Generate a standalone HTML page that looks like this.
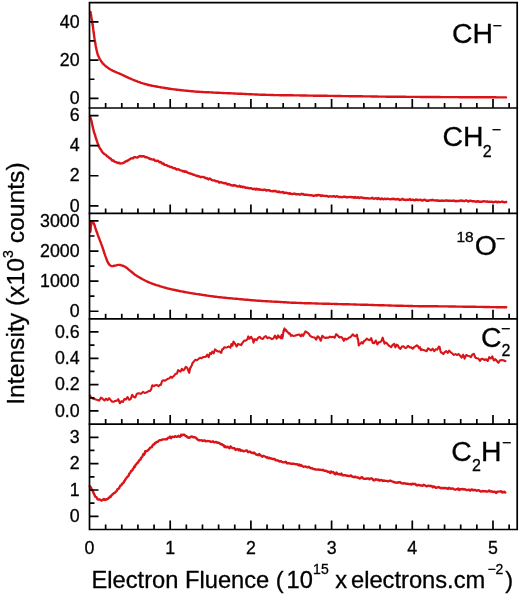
<!DOCTYPE html><html><head><meta charset="utf-8"><style>html,body{margin:0;padding:0;background:#fff;}svg{display:block;will-change:transform;}text{font-family:"Liberation Sans",sans-serif;fill:#000;stroke:#000;stroke-width:0.3px;}</style></head><body>
<svg width="520" height="596" viewBox="0 0 520 596">
<rect width="520" height="596" fill="#fff"/>
<path d="M90.5,12.0 L90.6,12.8 L90.8,13.9 L91.1,15.2 L91.3,16.7 L91.5,17.6 L91.6,18.5 L91.8,19.5 L92.0,20.6 L92.2,21.6 L92.3,22.7 L92.5,23.8 L92.6,24.8 L92.8,25.8 L92.9,26.8 L93.1,27.8 L93.2,28.9 L93.3,29.9 L93.5,31.0 L93.6,32.0 L93.7,33.0 L93.9,34.1 L94.0,35.1 L94.2,36.2 L94.3,37.2 L94.5,38.2 L94.6,39.2 L94.8,40.2 L95.0,41.3 L95.1,42.3 L95.3,43.3 L95.5,44.3 L95.6,45.2 L95.8,46.2 L96.0,47.2 L96.2,48.2 L96.4,49.3 L96.7,50.3 L96.9,51.4 L97.1,52.4 L97.4,53.4 L97.7,54.3 L98.1,55.5 L98.6,56.5 L99.0,57.5 L99.5,58.5 L100.1,59.5 L100.7,60.5 L101.3,61.4 L102.0,62.3 L102.7,63.3 L103.6,64.2 L104.3,64.9 L105.1,65.6 L105.9,66.3 L106.8,67.0 L107.7,67.6 L108.6,68.3 L109.5,68.9 L110.5,69.5 L111.5,70.0 L112.6,70.6 L113.7,71.1 L114.7,71.6 L115.7,72.0 L116.5,72.4 L117.7,72.9 L118.5,73.2 L120.0,73.8 L120.7,74.1 L121.5,74.5 L122.4,74.9 L123.4,75.4 L124.4,75.9 L125.5,76.4 L126.5,76.9 L127.6,77.4 L128.6,77.9 L129.6,78.3 L130.6,78.7 L131.5,79.1 L132.5,79.5 L133.4,79.9 L134.4,80.3 L135.4,80.7 L136.3,81.0 L137.3,81.4 L138.2,81.8 L139.2,82.1 L140.2,82.4 L141.1,82.8 L142.1,83.1 L143.0,83.4 L144.0,83.7 L145.0,84.0 L145.9,84.2 L146.9,84.5 L147.8,84.8 L148.8,85.0 L149.9,85.3 L151.0,85.5 L152.0,85.7 L153.1,85.9 L154.2,86.1 L155.3,86.3 L156.3,86.5 L157.4,86.7 L158.5,86.9 L159.6,87.1 L160.6,87.3 L161.7,87.5 L162.8,87.6 L163.8,87.8 L164.9,88.0 L166.0,88.2 L167.0,88.3 L168.1,88.5 L169.2,88.7 L170.2,88.8 L171.3,89.0 L172.4,89.1 L173.4,89.3 L174.5,89.4 L175.6,89.5 L176.6,89.7 L177.7,89.8 L178.8,89.9 L179.8,90.0 L180.9,90.2 L182.0,90.3 L183.0,90.4 L184.1,90.5 L185.2,90.6 L186.2,90.7 L187.3,90.8 L188.3,90.9 L189.4,91.0 L190.4,91.1 L191.4,91.2 L192.4,91.3 L193.4,91.4 L194.5,91.5 L195.7,91.6 L196.9,91.7 L197.8,91.8 L198.7,91.8 L199.6,91.9 L200.6,91.9 L201.6,92.0 L202.6,92.0 L203.6,92.1 L204.6,92.1 L205.7,92.2 L206.7,92.2 L207.8,92.3 L208.9,92.3 L210.0,92.4 L211.0,92.4 L211.9,92.5 L212.9,92.5 L213.9,92.6 L215.0,92.6 L216.0,92.7 L217.0,92.7 L218.1,92.8 L219.1,92.8 L220.2,92.9 L221.2,92.9 L222.3,93.0 L223.3,93.0 L224.4,93.1 L225.4,93.1 L226.4,93.1 L227.5,93.2 L228.5,93.2 L229.5,93.3 L230.5,93.3 L231.6,93.4 L232.6,93.4 L233.6,93.5 L234.6,93.5 L235.7,93.6 L236.7,93.6 L237.7,93.7 L238.7,93.7 L239.8,93.8 L240.8,93.8 L241.8,93.8 L242.9,93.9 L243.9,93.9 L244.9,94.0 L245.9,94.0 L247.0,94.1 L248.0,94.1 L249.0,94.2 L250.0,94.2 L251.1,94.3 L252.1,94.3 L253.1,94.4 L254.2,94.4 L255.2,94.5 L256.2,94.5 L257.2,94.5 L258.2,94.6 L259.2,94.6 L260.2,94.7 L261.2,94.7 L262.2,94.7 L263.2,94.8 L264.2,94.8 L265.2,94.8 L266.2,94.9 L267.2,94.9 L268.2,94.9 L269.3,94.9 L270.4,95.0 L271.5,95.0 L272.4,95.0 L273.2,95.0 L274.0,95.1 L274.7,95.1 L275.4,95.1 L276.1,95.1 L276.8,95.1 L277.5,95.1 L278.3,95.1 L279.1,95.1 L280.0,95.2 L281.0,95.2 L282.1,95.2 L283.4,95.2 L284.8,95.2 L286.3,95.2 L288.1,95.3 L290.0,95.3 L290.7,95.3 L291.4,95.3 L292.1,95.3 L292.9,95.3 L293.6,95.4 L294.4,95.4 L295.2,95.4 L296.1,95.4 L296.9,95.4 L297.8,95.4 L298.7,95.4 L299.6,95.4 L300.5,95.5 L301.4,95.5 L302.4,95.5 L303.3,95.5 L304.3,95.5 L305.3,95.5 L306.3,95.5 L307.3,95.6 L308.3,95.6 L309.4,95.6 L310.4,95.6 L311.5,95.6 L312.5,95.6 L313.6,95.7 L314.7,95.7 L315.8,95.7 L316.8,95.7 L317.9,95.7 L319.0,95.7 L320.1,95.7 L321.2,95.8 L322.4,95.8 L323.5,95.8 L324.6,95.8 L325.7,95.8 L326.8,95.8 L327.9,95.9 L329.0,95.9 L330.1,95.9 L331.2,95.9 L332.3,95.9 L333.4,95.9 L334.5,96.0 L335.6,96.0 L336.7,96.0 L337.7,96.0 L338.8,96.0 L339.9,96.0 L340.9,96.0 L341.9,96.1 L343.0,96.1 L344.0,96.1 L345.0,96.1 L346.0,96.1 L347.0,96.1 L348.0,96.1 L349.0,96.2 L350.0,96.2 L351.0,96.2 L352.0,96.2 L353.0,96.2 L354.1,96.2 L355.1,96.2 L356.1,96.3 L357.1,96.3 L358.1,96.3 L359.1,96.3 L360.1,96.3 L361.2,96.3 L362.2,96.3 L363.2,96.4 L364.2,96.4 L365.2,96.4 L366.2,96.4 L367.2,96.4 L368.3,96.4 L369.3,96.4 L370.3,96.4 L371.3,96.5 L372.3,96.5 L373.3,96.5 L374.3,96.5 L375.3,96.5 L376.3,96.5 L377.4,96.5 L378.4,96.6 L379.4,96.6 L380.4,96.6 L381.4,96.6 L382.4,96.6 L383.4,96.6 L384.4,96.6 L385.4,96.6 L386.4,96.7 L387.3,96.7 L388.3,96.7 L389.3,96.7 L390.3,96.7 L391.3,96.7 L392.3,96.7 L393.2,96.7 L394.2,96.7 L395.2,96.8 L396.2,96.8 L397.1,96.8 L398.1,96.8 L399.0,96.8 L400.0,96.8 L401.0,96.8 L402.1,96.8 L403.1,96.8 L404.2,96.8 L405.2,96.8 L406.2,96.9 L407.2,96.9 L408.2,96.9 L409.2,96.9 L410.2,96.9 L411.2,96.9 L412.2,96.9 L413.2,96.9 L414.2,96.9 L415.2,96.9 L416.2,96.9 L417.1,96.9 L418.1,96.9 L419.1,96.9 L420.1,96.9 L421.0,97.0 L422.0,97.0 L423.0,97.0 L424.0,97.0 L424.9,97.0 L425.9,97.0 L426.9,97.0 L427.9,97.0 L428.8,97.0 L429.8,97.0 L430.8,97.0 L431.8,97.0 L432.7,97.0 L433.7,97.0 L434.7,97.0 L435.7,97.0 L436.7,97.0 L437.7,97.0 L438.7,97.0 L439.7,97.0 L440.7,97.1 L441.7,97.1 L442.7,97.1 L443.8,97.1 L444.8,97.1 L445.8,97.1 L446.8,97.1 L447.9,97.1 L448.9,97.1 L450.0,97.1 L451.0,97.1 L451.9,97.1 L452.9,97.1 L453.9,97.1 L455.0,97.1 L456.0,97.1 L457.1,97.1 L458.2,97.1 L459.3,97.2 L460.4,97.2 L461.5,97.2 L462.6,97.2 L463.7,97.2 L464.9,97.2 L466.0,97.2 L467.2,97.2 L468.4,97.2 L469.5,97.2 L470.7,97.2 L471.9,97.2 L473.0,97.2 L474.2,97.2 L475.4,97.2 L476.5,97.2 L477.7,97.3 L478.8,97.3 L480.0,97.3 L481.1,97.3 L482.3,97.3 L483.4,97.3 L484.5,97.3 L485.6,97.3 L486.7,97.3 L487.8,97.3 L488.8,97.3 L489.9,97.3 L490.9,97.3 L491.9,97.3 L492.9,97.3 L493.9,97.3 L494.9,97.3 L495.8,97.3 L496.7,97.4 L497.6,97.4 L498.5,97.4 L499.3,97.4 L500.1,97.4 L500.9,97.4 L501.6,97.4 L502.4,97.4 L503.1,97.4 L503.7,97.4 L504.3,97.4 L504.9,97.4 L505.5,97.4 L506.0,97.4" fill="none" stroke="#da1418" stroke-width="2.4" stroke-linejoin="round" stroke-linecap="round"/>
<path d="M90.0,116.5 L90.3,117.2 L90.7,118.5 L91.1,119.6 L91.5,121.0 L91.7,121.7 L91.9,122.9 L92.1,124.3 L92.4,125.2 L92.6,126.4 L92.8,127.2 L93.0,128.2 L93.3,129.2 L93.5,129.7 L93.8,131.5 L94.1,132.4 L94.3,133.3 L94.6,133.6 L95.0,134.8 L95.3,136.2 L95.7,137.4 L96.1,138.8 L96.5,139.7 L96.8,141.0 L97.2,141.7 L97.6,143.1 L98.1,144.3 L98.5,145.0 L99.0,146.8 L99.5,147.5 L100.1,148.7 L100.6,149.1 L101.1,150.0 L101.8,151.2 L102.5,152.2 L103.3,153.2 L104.1,153.9 L104.8,154.3 L105.6,154.7 L106.4,155.4 L107.3,156.5 L108.1,156.6 L108.9,157.6 L109.7,158.4 L110.6,158.5 L111.4,159.7 L112.2,160.7 L113.2,160.3 L114.2,161.4 L115.2,161.9 L116.2,162.1 L117.2,162.8 L118.2,163.0 L119.2,162.8 L120.2,163.5 L121.2,163.4 L122.2,163.3 L123.2,163.1 L124.2,162.4 L125.2,161.9 L126.3,161.0 L127.3,161.0 L128.3,160.1 L129.3,159.6 L130.3,158.9 L131.3,158.4 L132.3,158.1 L133.2,158.4 L134.0,157.1 L135.0,157.1 L136.2,157.4 L137.1,157.6 L138.1,157.1 L139.3,156.2 L140.4,156.0 L141.6,156.6 L142.8,156.2 L143.8,156.2 L144.9,157.0 L145.9,157.3 L146.9,157.3 L147.9,157.8 L148.9,158.2 L150.0,159.0 L150.9,159.0 L151.8,159.3 L152.8,159.6 L153.8,159.3 L154.7,160.5 L155.7,160.7 L156.7,161.0 L157.7,160.6 L158.7,161.4 L159.6,162.3 L160.6,161.9 L161.5,162.9 L162.5,163.7 L163.5,163.4 L164.4,164.8 L165.4,164.9 L166.4,165.1 L167.3,165.6 L168.3,166.1 L169.2,166.3 L170.2,167.0 L171.2,166.9 L172.1,167.3 L173.1,168.1 L174.1,168.2 L175.0,168.2 L176.0,169.1 L176.9,169.6 L177.9,169.3 L178.9,169.4 L179.8,170.1 L180.8,170.4 L181.8,170.6 L182.7,171.4 L183.7,171.0 L184.7,171.9 L185.6,171.4 L186.6,171.9 L187.5,172.6 L188.5,173.0 L189.5,173.3 L190.4,173.5 L191.4,173.8 L192.4,174.2 L193.3,174.7 L194.3,174.8 L195.2,175.3 L196.2,175.7 L197.3,175.8 L198.4,176.3 L199.6,176.5 L200.7,177.2 L201.8,176.9 L202.8,176.9 L203.8,177.2 L204.8,177.6 L205.7,178.2 L206.6,178.1 L207.5,178.6 L208.4,179.4 L209.6,178.5 L210.5,179.1 L211.5,179.8 L212.5,180.2 L213.6,180.4 L214.7,180.5 L215.9,181.2 L217.0,181.4 L218.1,181.4 L219.2,182.6 L220.3,182.3 L221.3,182.3 L222.4,182.7 L223.5,183.0 L224.5,183.3 L225.6,183.0 L226.7,183.7 L227.7,184.5 L228.8,184.0 L229.9,184.6 L231.0,185.2 L232.0,185.3 L233.1,185.7 L234.2,185.0 L235.3,185.6 L236.3,185.8 L237.4,186.3 L238.5,186.6 L239.6,185.8 L240.6,187.0 L241.7,186.4 L242.8,187.3 L243.8,186.8 L244.9,187.5 L246.0,187.9 L247.0,187.7 L248.1,188.0 L249.2,188.3 L250.2,188.3 L251.3,188.3 L252.4,189.0 L253.4,189.0 L254.5,188.7 L255.6,189.6 L256.6,188.7 L257.7,189.5 L258.8,189.3 L259.8,189.5 L260.9,189.8 L262.0,189.8 L263.0,190.1 L264.1,189.6 L265.2,189.7 L266.2,190.5 L267.3,190.1 L268.4,190.2 L269.4,190.2 L270.5,191.1 L271.6,191.1 L272.6,191.4 L273.7,190.8 L274.8,191.2 L275.8,191.0 L276.9,191.7 L277.9,192.1 L279.0,191.5 L280.0,192.4 L281.0,192.4 L282.0,192.3 L283.0,191.9 L284.1,193.1 L285.3,192.8 L286.5,192.8 L287.4,193.2 L288.2,193.3 L289.1,193.8 L289.9,193.1 L290.8,193.8 L291.7,194.0 L292.6,194.1 L293.6,193.7 L294.7,193.6 L295.8,194.3 L297.1,194.1 L298.5,194.2 L300.0,194.7 L300.8,194.3 L301.6,193.8 L302.4,194.4 L303.3,194.0 L304.2,194.9 L305.2,194.8 L306.1,194.6 L307.1,194.8 L308.1,195.1 L309.2,195.0 L310.2,195.4 L311.3,195.1 L312.3,195.5 L313.4,195.7 L314.5,195.8 L315.6,195.2 L316.7,195.7 L317.8,194.9 L318.9,195.2 L320.0,195.1 L321.1,196.0 L322.2,195.4 L323.3,195.8 L324.4,195.9 L325.4,196.0 L326.5,195.9 L327.5,196.2 L328.5,196.7 L329.5,196.2 L330.6,196.4 L331.6,196.6 L332.6,196.3 L333.6,196.1 L334.6,196.4 L335.6,196.9 L336.7,196.1 L337.7,196.5 L338.7,197.1 L339.7,197.0 L340.7,196.9 L341.8,197.2 L342.8,197.0 L343.8,196.7 L344.8,196.6 L345.8,196.9 L346.9,197.5 L347.9,197.1 L348.9,197.0 L349.9,197.1 L350.9,196.9 L351.9,197.4 L353.0,197.1 L354.0,197.7 L355.0,196.9 L356.0,197.7 L357.0,197.5 L358.1,197.2 L359.1,198.0 L360.1,197.7 L361.1,197.2 L362.1,197.7 L363.1,198.0 L364.2,197.9 L365.2,198.3 L366.2,198.3 L367.2,198.3 L368.2,198.3 L369.3,198.6 L370.3,198.4 L371.3,198.4 L372.3,197.7 L373.3,198.6 L374.4,198.8 L375.4,198.3 L376.4,198.3 L377.4,199.1 L378.4,198.0 L379.4,198.7 L380.5,199.3 L381.5,198.4 L382.5,198.9 L383.5,199.3 L384.5,198.7 L385.5,199.0 L386.5,199.1 L387.5,198.6 L388.5,198.9 L389.5,199.1 L390.5,199.3 L391.5,199.0 L392.5,199.0 L393.5,198.8 L394.5,199.0 L395.5,199.5 L396.5,199.3 L397.5,199.0 L398.5,199.1 L399.5,200.0 L400.5,199.7 L401.5,199.6 L402.6,198.8 L403.6,199.7 L404.6,199.7 L405.7,200.1 L406.8,199.7 L407.8,199.6 L408.9,199.8 L410.0,199.1 L411.0,200.0 L411.9,199.9 L412.9,199.6 L413.9,200.2 L414.9,200.4 L415.9,199.5 L416.9,199.7 L417.9,200.0 L418.9,200.0 L419.9,199.9 L420.9,199.7 L422.0,200.7 L423.0,200.4 L424.0,199.8 L425.1,199.8 L426.1,200.7 L427.1,200.5 L428.2,200.8 L429.2,200.5 L430.3,200.0 L431.3,200.4 L432.4,199.7 L433.4,200.2 L434.5,200.4 L435.5,200.6 L436.5,200.3 L437.6,200.5 L438.6,200.7 L439.6,200.7 L440.7,200.8 L441.7,200.7 L442.7,200.5 L443.7,200.9 L444.8,200.7 L445.8,200.4 L446.8,200.5 L447.8,200.7 L448.8,200.7 L449.9,200.8 L450.9,200.8 L451.9,200.9 L452.9,200.8 L453.9,200.5 L454.9,201.0 L456.0,201.2 L457.0,201.0 L458.0,200.9 L459.0,201.1 L460.0,200.7 L461.0,200.4 L462.1,201.0 L463.1,200.7 L464.1,201.2 L465.1,200.7 L466.2,200.4 L467.2,200.8 L468.2,201.6 L469.3,201.0 L470.3,200.7 L471.3,200.9 L472.4,201.3 L473.4,201.3 L474.4,201.3 L475.5,201.7 L476.6,201.5 L477.7,201.3 L478.8,201.5 L480.0,201.8 L481.1,201.7 L482.3,201.7 L483.5,201.1 L484.7,201.4 L485.9,201.7 L487.1,201.4 L488.3,201.9 L489.4,201.8 L490.6,201.9 L491.8,201.6 L492.9,202.3 L494.1,202.1 L495.2,201.7 L496.3,201.8 L497.3,202.4 L498.3,201.7 L499.3,202.1 L500.3,202.1 L501.2,201.9 L502.1,201.5 L502.9,202.0 L503.7,202.0 L504.4,202.3 L505.0,202.2 L505.7,202.0 L506.2,202.0" fill="none" stroke="#da1418" stroke-width="2.4" stroke-linejoin="round" stroke-linecap="round"/>
<path d="M90.4,231.5 L90.4,230.8 L90.5,229.8 L90.5,228.6 L90.6,227.4 L90.7,226.1 L90.8,224.9 L90.9,223.9 L91.0,223.1 L92.5,222.1 L93.3,222.7 L94.1,224.1 L94.4,224.8 L94.7,225.7 L95.0,226.7 L95.3,227.8 L95.7,228.9 L96.1,230.1 L96.4,231.0 L96.8,232.0 L97.2,233.0 L97.5,234.0 L97.9,235.1 L98.3,236.1 L98.7,237.2 L99.1,238.2 L99.5,239.2 L99.8,240.2 L100.2,241.2 L100.6,242.1 L101.0,243.1 L101.3,244.1 L101.7,245.1 L102.1,246.2 L102.4,247.2 L102.8,248.2 L103.1,249.2 L103.4,250.3 L103.8,251.3 L104.1,252.3 L104.4,253.4 L104.8,254.3 L105.1,255.3 L105.5,256.4 L105.9,257.4 L106.3,258.5 L106.6,259.5 L107.0,260.5 L107.4,261.4 L107.8,262.2 L108.2,262.9 L108.9,264.1 L109.6,264.9 L110.4,265.5 L111.2,265.9 L112.1,266.1 L113.1,266.0 L114.2,265.8 L115.2,265.6 L116.2,265.4 L117.1,265.1 L118.1,264.9 L119.2,264.9 L120.2,265.0 L121.3,265.3 L122.4,265.6 L123.5,266.0 L124.6,266.5 L125.5,267.1 L126.4,267.7 L127.3,268.4 L128.2,269.2 L129.2,270.0 L130.0,270.6 L130.8,271.3 L131.7,272.0 L132.6,272.7 L133.5,273.5 L134.4,274.2 L135.4,274.9 L136.3,275.5 L137.2,276.1 L138.2,276.7 L139.2,277.3 L140.1,277.9 L141.1,278.4 L142.1,279.0 L143.1,279.5 L144.1,280.0 L145.0,280.5 L146.0,281.0 L146.9,281.4 L147.9,281.9 L148.9,282.3 L149.8,282.7 L150.8,283.1 L151.8,283.5 L152.7,283.8 L153.7,284.2 L154.7,284.5 L155.6,284.8 L156.6,285.1 L157.5,285.4 L158.5,285.7 L159.5,286.0 L160.4,286.3 L161.4,286.6 L162.4,286.9 L163.3,287.2 L164.3,287.5 L165.2,287.7 L166.2,288.0 L167.3,288.3 L168.4,288.6 L169.5,288.8 L170.5,289.1 L171.6,289.3 L172.7,289.6 L173.8,289.8 L174.9,290.0 L176.0,290.3 L177.1,290.5 L178.2,290.7 L179.3,291.0 L180.4,291.2 L181.5,291.4 L182.6,291.6 L183.6,291.8 L184.6,292.0 L185.7,292.2 L186.8,292.4 L187.9,292.6 L189.2,292.8 L190.1,293.0 L191.0,293.1 L191.9,293.3 L192.9,293.4 L193.9,293.6 L194.9,293.7 L196.0,293.9 L197.3,294.1 L198.6,294.3 L200.0,294.5 L200.8,294.6 L201.7,294.7 L202.6,294.9 L203.5,295.0 L204.4,295.2 L205.4,295.3 L206.5,295.5 L207.5,295.6 L208.5,295.8 L209.6,295.9 L210.7,296.1 L211.8,296.2 L212.8,296.4 L213.9,296.5 L215.0,296.7 L216.1,296.8 L217.1,296.9 L218.2,297.1 L219.2,297.2 L220.2,297.3 L221.2,297.4 L222.2,297.5 L223.3,297.6 L224.3,297.7 L225.3,297.8 L226.3,297.9 L227.3,298.0 L228.3,298.1 L229.4,298.2 L230.4,298.3 L231.4,298.4 L232.4,298.5 L233.4,298.6 L234.4,298.6 L235.5,298.7 L236.5,298.8 L237.5,298.9 L238.5,299.0 L239.5,299.1 L240.5,299.2 L241.5,299.3 L242.5,299.4 L243.6,299.5 L244.6,299.6 L245.6,299.7 L246.6,299.8 L247.6,299.8 L248.6,299.9 L249.6,300.0 L250.6,300.1 L251.6,300.2 L252.6,300.3 L253.7,300.4 L254.7,300.5 L255.7,300.5 L256.7,300.6 L257.7,300.7 L258.7,300.8 L259.7,300.8 L260.7,300.9 L261.7,301.0 L262.7,301.0 L263.6,301.1 L264.6,301.1 L265.6,301.2 L266.6,301.3 L267.5,301.3 L268.5,301.4 L269.5,301.4 L270.5,301.5 L271.6,301.5 L272.6,301.6 L273.7,301.6 L274.7,301.7 L275.8,301.7 L276.9,301.8 L277.8,301.8 L278.7,301.9 L279.5,301.9 L280.3,302.0 L281.1,302.0 L281.8,302.1 L282.6,302.1 L283.4,302.2 L284.2,302.2 L285.0,302.3 L285.8,302.3 L286.6,302.4 L287.5,302.5 L288.5,302.5 L289.5,302.6 L290.5,302.6 L291.6,302.7 L292.8,302.7 L294.0,302.8 L295.4,302.8 L296.8,302.9 L298.4,302.9 L300.0,303.0 L300.7,303.0 L301.5,303.0 L302.2,303.1 L303.0,303.1 L303.8,303.1 L304.6,303.2 L305.5,303.2 L306.3,303.2 L307.2,303.2 L308.1,303.3 L309.0,303.3 L309.9,303.3 L310.8,303.3 L311.7,303.4 L312.7,303.4 L313.7,303.4 L314.6,303.4 L315.6,303.5 L316.6,303.5 L317.7,303.5 L318.7,303.6 L319.7,303.6 L320.7,303.6 L321.8,303.6 L322.8,303.7 L323.9,303.7 L325.0,303.7 L326.0,303.7 L327.1,303.8 L328.2,303.8 L329.3,303.8 L330.4,303.9 L331.5,303.9 L332.6,303.9 L333.7,303.9 L334.8,304.0 L335.9,304.0 L336.9,304.0 L338.0,304.1 L339.1,304.1 L340.2,304.1 L341.3,304.1 L342.4,304.2 L343.5,304.2 L344.6,304.2 L345.6,304.3 L346.7,304.3 L347.8,304.3 L348.8,304.3 L349.9,304.4 L350.9,304.4 L352.0,304.4 L353.0,304.4 L354.0,304.5 L355.0,304.5 L356.0,304.5 L357.0,304.6 L358.0,304.6 L359.0,304.6 L360.0,304.6 L361.1,304.7 L362.1,304.7 L363.1,304.7 L364.1,304.8 L365.2,304.8 L366.2,304.8 L367.2,304.8 L368.3,304.9 L369.3,304.9 L370.3,304.9 L371.4,305.0 L372.4,305.0 L373.5,305.0 L374.5,305.1 L375.5,305.1 L376.6,305.1 L377.6,305.1 L378.6,305.2 L379.7,305.2 L380.7,305.2 L381.7,305.3 L382.8,305.3 L383.8,305.3 L384.8,305.4 L385.9,305.4 L386.9,305.4 L387.9,305.4 L388.9,305.5 L389.9,305.5 L390.9,305.5 L391.9,305.6 L392.9,305.6 L393.9,305.6 L394.9,305.6 L395.9,305.7 L396.9,305.7 L397.9,305.7 L398.8,305.7 L399.8,305.8 L400.8,305.8 L401.7,305.8 L402.7,305.8 L403.6,305.9 L404.5,305.9 L405.5,305.9 L406.4,305.9 L407.3,305.9 L408.2,306.0 L409.1,306.0 L410.0,306.0 L411.1,306.0 L412.3,306.0 L413.4,306.1 L414.5,306.1 L415.5,306.1 L416.6,306.1 L417.7,306.1 L418.7,306.2 L419.7,306.2 L420.7,306.2 L421.7,306.2 L422.7,306.2 L423.6,306.2 L424.6,306.2 L425.6,306.2 L426.5,306.2 L427.5,306.3 L428.4,306.3 L429.3,306.3 L430.3,306.3 L431.2,306.3 L432.2,306.3 L433.1,306.3 L434.0,306.3 L435.0,306.3 L435.9,306.3 L436.9,306.3 L437.8,306.3 L438.8,306.4 L439.7,306.4 L440.7,306.4 L441.7,306.4 L442.7,306.4 L443.7,306.4 L444.7,306.4 L445.8,306.4 L446.8,306.4 L447.9,306.4 L449.0,306.5 L450.0,306.5 L451.2,306.5 L452.3,306.5 L453.2,306.5 L454.2,306.5 L455.1,306.5 L456.1,306.6 L457.2,306.6 L458.2,306.6 L459.2,306.6 L460.3,306.6 L461.4,306.6 L462.5,306.6 L463.7,306.7 L464.8,306.7 L465.9,306.7 L467.1,306.7 L468.3,306.7 L469.4,306.7 L470.6,306.8 L471.8,306.8 L473.0,306.8 L474.2,306.8 L475.4,306.8 L476.6,306.9 L477.8,306.9 L478.9,306.9 L480.1,306.9 L481.3,306.9 L482.5,306.9 L483.6,307.0 L484.8,307.0 L485.9,307.0 L487.1,307.0 L488.2,307.0 L489.3,307.0 L490.4,307.1 L491.4,307.1 L492.5,307.1 L493.5,307.1 L494.5,307.1 L495.5,307.1 L496.5,307.2 L497.4,307.2 L498.3,307.2 L499.2,307.2 L500.1,307.2 L500.9,307.2 L501.7,307.2 L502.4,307.2 L503.2,307.3 L503.8,307.3 L504.5,307.3 L505.1,307.3 L505.7,307.3 L506.2,307.3" fill="none" stroke="#da1418" stroke-width="2.4" stroke-linejoin="round" stroke-linecap="round"/>
<path d="M89.8,395.4 L91.3,397.8 L92.9,398.6 L94.4,398.9 L96.0,399.5 L97.5,399.9 L99.2,400.5 L101.0,397.6 L102.8,398.9 L104.5,400.5 L106.0,398.7 L107.6,400.1 L109.1,398.2 L110.6,400.0 L112.2,401.7 L113.7,401.7 L115.2,400.9 L116.8,400.7 L118.3,399.2 L119.8,403.2 L121.4,401.3 L122.9,401.9 L124.4,399.0 L126.0,399.5 L127.5,397.0 L129.1,399.7 L130.6,399.2 L132.2,394.8 L133.7,396.9 L135.3,397.4 L136.8,393.9 L138.3,393.2 L139.9,393.6 L141.4,393.6 L143.0,391.9 L144.6,393.0 L146.2,392.6 L147.4,392.0 L148.6,391.1 L149.9,391.0 L151.1,389.5 L152.3,385.2 L153.9,386.1 L155.4,385.2 L156.9,385.0 L158.5,386.1 L159.7,385.1 L160.9,384.7 L162.2,380.9 L163.4,380.3 L164.6,380.8 L166.2,379.8 L167.7,378.8 L169.2,378.4 L170.8,376.7 L172.0,377.8 L173.2,376.6 L174.5,375.2 L175.7,373.7 L176.9,373.6 L178.1,370.2 L179.4,371.0 L180.6,371.6 L181.9,368.8 L183.1,370.3 L184.4,369.5 L185.7,366.9 L187.0,367.7 L187.7,368.9 L188.5,371.3 L189.2,372.8 L189.7,370.5 L190.2,367.9 L190.8,367.4 L191.3,366.0 L191.8,365.5 L192.3,363.5 L193.9,361.4 L195.4,359.8 L196.9,360.3 L198.5,359.0 L200.0,357.8 L201.6,358.3 L203.1,357.0 L204.6,357.0 L205.9,356.7 L207.3,354.7 L208.7,357.2 L210.0,353.1 L211.2,353.9 L212.3,351.7 L213.7,353.4 L215.0,349.4 L216.6,350.7 L218.1,351.5 L219.6,351.4 L221.2,352.9 L222.2,349.2 L223.2,349.1 L224.2,347.2 L225.8,347.6 L227.3,347.2 L228.8,346.5 L230.4,347.6 L231.4,344.1 L232.5,345.7 L233.5,341.5 L235.0,343.6 L236.6,346.5 L238.1,343.9 L239.6,344.6 L241.1,345.1 L242.7,342.6 L244.2,340.5 L245.2,340.8 L246.3,340.2 L247.3,339.4 L248.3,336.4 L249.4,338.7 L250.4,337.6 L251.2,336.8 L251.9,338.4 L252.7,338.9 L253.5,342.6 L255.0,339.1 L256.6,340.1 L258.1,337.9 L259.6,336.8 L261.2,338.4 L262.7,339.0 L264.2,337.1 L265.8,336.0 L267.3,338.2 L268.9,337.4 L270.4,338.1 L271.9,339.2 L273.5,338.3 L275.0,335.6 L276.6,338.7 L278.1,335.4 L279.1,337.5 L280.2,336.6 L281.2,338.4 L281.7,334.9 L282.3,338.2 L282.8,336.3 L283.4,331.6 L283.9,329.9 L284.5,328.4 L285.0,330.7 L285.9,329.8 L286.9,331.4 L287.9,332.2 L288.8,333.6 L289.8,333.4 L290.9,335.9 L291.9,335.0 L293.3,336.0 L294.8,335.8 L296.2,335.2 L297.7,334.8 L299.3,334.5 L300.8,336.4 L301.9,334.4 L303.1,335.9 L304.2,333.7 L305.4,331.4 L306.5,332.1 L307.7,332.9 L308.9,333.8 L310.0,335.7 L311.6,336.8 L313.1,337.2 L314.6,337.5 L316.2,339.6 L317.7,336.3 L319.2,337.6 L320.8,340.7 L322.3,335.8 L323.8,337.3 L325.4,337.9 L326.9,337.6 L328.5,337.7 L330.0,336.6 L331.5,337.3 L333.1,336.8 L334.6,337.7 L336.2,334.2 L337.7,335.4 L339.2,337.4 L340.8,337.0 L342.3,337.8 L343.8,340.8 L345.0,338.5 L346.3,339.5 L347.5,338.9 L348.8,337.7 L350.0,337.3 L351.4,336.2 L352.8,334.3 L354.1,335.8 L355.5,336.2 L356.9,334.7 L357.3,336.8 L357.7,339.4 L358.0,338.9 L358.4,342.4 L358.8,345.5 L359.2,343.9 L360.4,343.7 L361.7,342.2 L362.9,343.4 L364.2,340.7 L365.4,340.4 L366.8,338.6 L368.3,339.8 L369.8,340.1 L371.2,338.1 L372.7,343.0 L374.2,343.1 L375.8,340.5 L377.3,344.5 L378.6,342.4 L380.0,342.1 L381.4,341.1 L382.7,337.7 L383.6,340.5 L384.5,343.8 L385.4,342.3 L386.3,342.9 L387.2,343.6 L388.1,344.9 L389.6,346.2 L391.1,347.2 L392.7,344.8 L394.2,343.8 L395.4,347.3 L396.7,344.7 L397.9,345.4 L399.2,347.9 L400.4,348.8 L401.9,346.6 L403.4,346.2 L405.0,347.9 L406.5,347.6 L408.1,345.8 L409.6,347.4 L411.1,347.2 L412.7,348.7 L414.1,347.2 L415.4,346.4 L416.8,345.3 L418.1,346.4 L419.1,348.2 L420.0,347.2 L420.9,350.1 L421.9,349.4 L423.4,350.1 L425.0,350.6 L426.6,351.2 L428.1,348.3 L429.6,349.3 L431.1,350.3 L432.7,348.7 L434.2,351.2 L435.7,349.3 L437.3,349.6 L438.8,346.6 L439.6,346.9 L440.4,350.8 L441.1,352.5 L441.9,352.8 L443.3,354.1 L444.8,352.1 L446.2,351.1 L447.7,352.9 L449.2,350.7 L450.8,352.2 L452.3,353.5 L453.9,355.0 L455.4,354.0 L456.9,355.0 L458.5,354.1 L460.0,355.6 L461.6,357.6 L463.1,354.7 L464.6,358.7 L466.2,355.0 L467.7,355.8 L469.2,356.0 L470.8,357.1 L472.3,354.6 L473.9,353.8 L475.4,357.7 L476.9,358.3 L478.4,358.5 L480.0,360.9 L481.6,358.7 L483.1,359.1 L484.6,360.0 L486.1,359.3 L487.7,361.0 L489.2,357.2 L490.8,358.5 L492.3,356.3 L493.8,360.5 L495.4,359.1 L496.9,361.0 L498.4,362.8 L500.0,360.2 L501.5,360.1 L503.4,360.2 L505.4,361.2" fill="none" stroke="#da1418" stroke-width="2.1" stroke-linejoin="round" stroke-linecap="round"/>
<path d="M89.8,486.3 L90.3,486.6 L91.1,487.8 L91.8,489.5 L92.3,490.1 L92.8,491.1 L93.2,492.0 L93.7,493.5 L94.2,494.3 L94.6,495.0 L95.1,496.3 L95.6,496.8 L96.5,497.3 L97.5,499.3 L98.5,499.5 L99.9,499.4 L101.4,500.5 L102.6,500.1 L103.9,498.9 L105.2,500.0 L106.2,499.2 L107.2,499.2 L108.1,498.5 L109.1,497.8 L109.9,496.6 L110.6,496.9 L111.4,495.6 L112.1,494.6 L112.9,494.2 L113.9,493.2 L114.9,492.8 L115.9,491.6 L116.8,490.9 L117.5,489.1 L118.1,489.0 L118.7,488.6 L119.3,487.9 L120.0,486.1 L120.7,485.4 L121.4,485.3 L122.1,483.6 L122.8,483.2 L123.6,482.7 L124.3,481.0 L124.9,480.7 L125.5,479.1 L126.1,478.6 L126.7,477.7 L127.2,476.9 L127.8,476.5 L128.4,476.2 L129.1,474.0 L129.8,473.1 L130.4,472.6 L131.1,471.0 L131.8,470.8 L132.5,469.9 L133.1,468.7 L133.7,468.2 L134.3,466.5 L135.0,466.7 L135.6,464.9 L136.2,464.4 L136.8,463.6 L137.4,462.9 L138.0,462.6 L138.6,461.4 L139.2,460.4 L139.8,459.9 L140.4,459.6 L141.0,458.0 L141.6,457.3 L142.2,456.8 L142.8,455.5 L143.4,453.9 L144.0,454.7 L144.6,453.9 L145.2,451.3 L146.0,451.4 L146.9,450.9 L147.7,450.5 L148.6,449.8 L149.4,448.7 L150.2,447.6 L151.0,447.3 L151.9,447.0 L152.7,445.2 L153.5,444.5 L154.4,444.3 L155.2,442.7 L156.1,442.7 L156.9,442.0 L157.7,441.9 L158.7,440.8 L159.6,440.3 L160.8,440.1 L161.6,440.0 L162.6,439.4 L163.7,439.4 L164.7,439.4 L165.8,439.3 L166.9,439.3 L167.9,437.9 L169.0,437.7 L170.0,436.6 L171.0,438.2 L172.1,436.8 L173.1,436.9 L174.1,437.0 L175.2,436.1 L176.2,436.9 L177.3,436.7 L178.3,435.8 L179.2,436.6 L180.2,436.7 L181.1,434.7 L182.0,435.4 L182.9,434.7 L183.8,434.7 L184.7,435.0 L185.7,436.1 L186.6,436.2 L187.6,437.5 L188.5,437.3 L189.7,437.8 L190.8,436.6 L192.0,436.5 L193.1,437.3 L194.0,437.1 L194.9,437.4 L195.8,437.7 L196.7,438.6 L197.7,439.6 L198.6,440.2 L199.6,440.2 L200.7,440.4 L201.7,440.3 L202.8,441.1 L203.8,440.4 L204.8,440.5 L205.7,441.3 L206.7,441.1 L207.7,441.0 L208.8,441.1 L210.0,441.4 L210.9,441.9 L211.9,441.9 L213.0,441.3 L214.0,442.2 L215.2,442.2 L216.2,441.9 L217.3,442.9 L218.3,442.6 L219.2,442.8 L220.2,443.8 L221.2,444.5 L222.1,444.2 L222.9,445.3 L223.7,445.2 L224.5,447.1 L225.4,446.3 L226.4,447.3 L227.4,446.7 L228.5,447.5 L229.5,448.2 L230.5,446.4 L231.5,447.4 L232.5,448.1 L233.6,448.2 L234.6,448.3 L235.6,449.9 L236.7,449.3 L237.7,448.9 L238.7,450.2 L239.7,449.3 L240.7,450.8 L241.8,450.2 L242.8,450.7 L243.8,451.4 L244.8,451.0 L245.9,450.5 L246.9,450.5 L247.9,452.0 L249.0,452.0 L250.0,451.5 L251.0,452.6 L252.1,452.8 L253.1,453.3 L254.1,452.5 L255.2,453.7 L256.2,454.6 L257.2,454.8 L258.2,455.2 L259.2,454.0 L260.3,455.3 L261.3,455.7 L262.3,456.8 L263.3,455.7 L264.4,456.3 L265.4,456.8 L266.4,457.5 L267.5,457.3 L268.5,458.3 L269.5,457.8 L270.5,458.5 L271.6,458.5 L272.6,459.1 L273.6,459.0 L274.6,458.9 L275.6,460.4 L276.5,460.4 L277.5,460.3 L278.5,460.9 L279.6,461.6 L280.8,461.1 L281.7,461.7 L282.7,462.2 L283.7,462.4 L284.7,462.3 L285.8,461.7 L286.9,463.4 L287.9,463.2 L289.0,463.3 L290.0,463.4 L291.1,463.8 L292.1,463.7 L293.1,463.6 L294.1,463.8 L295.1,464.1 L296.1,464.2 L297.3,464.2 L298.5,465.3 L299.4,464.6 L300.3,465.7 L301.3,465.2 L302.3,466.1 L303.4,466.8 L304.4,466.6 L305.5,466.4 L306.6,467.1 L307.6,467.4 L308.7,466.8 L309.8,467.6 L310.8,468.2 L311.8,468.1 L312.8,468.6 L313.9,469.1 L314.9,469.3 L315.9,469.5 L316.9,469.6 L317.9,469.4 L318.9,469.7 L319.9,469.8 L321.0,469.9 L322.0,470.2 L323.0,469.7 L324.0,470.6 L325.0,470.9 L326.0,470.7 L327.0,471.4 L328.0,471.9 L329.0,471.8 L330.1,473.0 L331.1,471.4 L332.1,472.5 L333.2,472.0 L334.3,473.5 L335.4,474.3 L336.4,472.5 L337.4,473.8 L338.4,474.2 L339.4,474.0 L340.4,474.6 L341.4,473.6 L342.5,475.2 L343.5,475.2 L344.6,475.2 L345.6,475.1 L346.7,475.9 L347.8,475.6 L348.9,476.1 L350.0,476.0 L351.0,475.4 L352.0,476.5 L352.9,476.8 L354.0,477.2 L355.0,476.6 L356.0,477.1 L357.0,477.5 L358.0,477.5 L359.1,478.1 L360.1,478.6 L361.1,477.4 L362.2,477.1 L363.2,478.5 L364.2,478.9 L365.3,478.8 L366.3,478.9 L367.3,478.4 L368.3,478.4 L369.4,479.3 L370.4,478.6 L371.4,478.3 L372.4,478.8 L373.5,480.4 L374.5,480.4 L375.5,479.3 L376.6,479.4 L377.6,480.0 L378.6,479.6 L379.6,480.7 L380.7,480.2 L381.7,479.9 L382.7,481.1 L383.7,480.4 L384.7,480.9 L385.8,480.9 L386.8,480.9 L387.8,481.4 L388.8,481.1 L389.8,480.7 L390.8,480.7 L391.9,481.3 L392.9,481.6 L393.9,482.1 L394.9,482.3 L395.9,482.7 L397.0,482.6 L398.0,482.3 L399.0,482.5 L400.0,482.0 L401.0,483.0 L402.1,483.4 L403.1,483.5 L404.1,483.3 L405.1,483.4 L406.2,483.9 L407.2,483.6 L408.2,484.0 L409.3,484.1 L410.3,484.0 L411.3,484.6 L412.3,483.8 L413.4,484.0 L414.4,483.9 L415.4,484.0 L416.4,485.2 L417.4,485.4 L418.5,484.8 L419.5,485.1 L420.5,485.5 L421.5,485.5 L422.5,485.8 L423.6,484.8 L424.6,485.2 L425.6,485.8 L426.6,486.4 L427.6,485.9 L428.6,485.6 L429.7,486.0 L430.7,486.0 L431.7,486.0 L432.7,487.2 L433.7,486.4 L434.8,486.8 L435.8,487.9 L436.8,487.6 L437.8,487.3 L438.8,487.0 L439.8,487.6 L440.9,488.2 L441.9,487.9 L442.9,488.3 L443.9,487.9 L444.9,488.2 L446.0,488.0 L447.0,488.4 L448.0,488.9 L449.0,487.8 L450.0,488.5 L451.1,488.7 L452.1,488.4 L453.1,488.6 L454.1,489.2 L455.2,489.8 L456.2,489.3 L457.2,489.2 L458.3,488.4 L459.3,490.1 L460.3,489.3 L461.3,489.3 L462.4,488.9 L463.4,489.5 L464.4,489.1 L465.4,489.7 L466.4,490.0 L467.3,489.9 L468.3,490.0 L469.2,489.6 L470.2,490.7 L471.1,489.9 L472.0,489.4 L473.0,490.2 L474.0,490.0 L475.0,490.0 L476.1,490.4 L477.1,490.8 L478.3,490.2 L479.5,490.7 L480.7,491.5 L481.6,491.3 L482.5,491.0 L483.5,491.2 L484.6,491.1 L485.7,491.2 L486.8,491.7 L488.0,491.4 L489.2,490.5 L490.4,491.6 L491.6,491.3 L492.8,492.0 L494.0,491.6 L495.2,492.0 L496.3,493.0 L497.4,491.6 L498.5,491.6 L499.6,491.6 L500.6,491.3 L501.6,491.5 L502.4,492.6 L503.3,492.2 L504.0,491.7 L504.6,491.9 L505.2,492.6" fill="none" stroke="#da1418" stroke-width="2.4" stroke-linejoin="round" stroke-linecap="round"/>
<path d="M89.8,221.3 L93.2,221.3 L90.6,233 L89.8,233 Z" fill="#da1418"/>
<g stroke="#000" stroke-width="1.7" fill="none" stroke-linecap="square">
<path d="M89.5,2.65 H517.2 V529.5 H89.5 Z"/>
<path d="M89.5,108.0 H517.2"/>
<path d="M89.5,213.4 H517.2"/>
<path d="M89.5,318.8 H517.2"/>
<path d="M89.5,424.1 H517.2"/>
</g>
<path d="M89.5,98.42 h9 M89.5,60.11 h9 M89.5,21.80 h9 M89.5,79.27 h5 M89.5,40.96 h5 M105.64,108.0 v-5 M121.78,108.0 v-5 M137.92,108.0 v-5 M154.06,108.0 v-5 M170.20,108.0 v-9 M186.34,108.0 v-5 M202.48,108.0 v-5 M218.62,108.0 v-5 M234.76,108.0 v-5 M250.90,108.0 v-9 M267.04,108.0 v-5 M283.18,108.0 v-5 M299.32,108.0 v-5 M315.45,108.0 v-5 M331.59,108.0 v-9 M347.73,108.0 v-5 M363.87,108.0 v-5 M380.01,108.0 v-5 M396.15,108.0 v-5 M412.29,108.0 v-9 M428.43,108.0 v-5 M444.57,108.0 v-5 M460.71,108.0 v-5 M476.85,108.0 v-5 M492.99,108.0 v-9 M509.13,108.0 v-5 M89.5,205.87 h9 M89.5,175.76 h9 M89.5,145.64 h9 M89.5,115.53 h9 M105.64,213.4 v-5 M121.78,213.4 v-5 M137.92,213.4 v-5 M154.06,213.4 v-5 M170.20,213.4 v-9 M186.34,213.4 v-5 M202.48,213.4 v-5 M218.62,213.4 v-5 M234.76,213.4 v-5 M250.90,213.4 v-9 M267.04,213.4 v-5 M283.18,213.4 v-5 M299.32,213.4 v-5 M315.45,213.4 v-5 M331.59,213.4 v-9 M347.73,213.4 v-5 M363.87,213.4 v-5 M380.01,213.4 v-5 M396.15,213.4 v-5 M412.29,213.4 v-9 M428.43,213.4 v-5 M444.57,213.4 v-5 M460.71,213.4 v-5 M476.85,213.4 v-5 M492.99,213.4 v-9 M509.13,213.4 v-5 M89.5,311.27 h9 M89.5,281.16 h9 M89.5,251.04 h9 M89.5,220.93 h9 M89.5,296.21 h5 M89.5,266.10 h5 M89.5,235.99 h5 M105.64,318.8 v-5 M121.78,318.8 v-5 M137.92,318.8 v-5 M154.06,318.8 v-5 M170.20,318.8 v-9 M186.34,318.8 v-5 M202.48,318.8 v-5 M218.62,318.8 v-5 M234.76,318.8 v-5 M250.90,318.8 v-9 M267.04,318.8 v-5 M283.18,318.8 v-5 M299.32,318.8 v-5 M315.45,318.8 v-5 M331.59,318.8 v-9 M347.73,318.8 v-5 M363.87,318.8 v-5 M380.01,318.8 v-5 M396.15,318.8 v-5 M412.29,318.8 v-9 M428.43,318.8 v-5 M444.57,318.8 v-5 M460.71,318.8 v-5 M476.85,318.8 v-5 M492.99,318.8 v-9 M509.13,318.8 v-5 M89.5,410.94 h9 M89.5,384.61 h9 M89.5,358.29 h9 M89.5,331.96 h9 M89.5,397.78 h5 M89.5,371.45 h5 M89.5,345.12 h5 M105.64,424.1 v-5 M121.78,424.1 v-5 M137.92,424.1 v-5 M154.06,424.1 v-5 M170.20,424.1 v-9 M186.34,424.1 v-5 M202.48,424.1 v-5 M218.62,424.1 v-5 M234.76,424.1 v-5 M250.90,424.1 v-9 M267.04,424.1 v-5 M283.18,424.1 v-5 M299.32,424.1 v-5 M315.45,424.1 v-5 M331.59,424.1 v-9 M347.73,424.1 v-5 M363.87,424.1 v-5 M380.01,424.1 v-5 M396.15,424.1 v-5 M412.29,424.1 v-9 M428.43,424.1 v-5 M444.57,424.1 v-5 M460.71,424.1 v-5 M476.85,424.1 v-5 M492.99,424.1 v-9 M509.13,424.1 v-5 M89.5,516.33 h9 M89.5,489.98 h9 M89.5,463.62 h9 M89.5,437.28 h9 M89.5,503.15 h5 M89.5,476.80 h5 M89.5,450.45 h5 M105.64,529.5 v-5 M121.78,529.5 v-5 M137.92,529.5 v-5 M154.06,529.5 v-5 M170.20,529.5 v-9 M186.34,529.5 v-5 M202.48,529.5 v-5 M218.62,529.5 v-5 M234.76,529.5 v-5 M250.90,529.5 v-9 M267.04,529.5 v-5 M283.18,529.5 v-5 M299.32,529.5 v-5 M315.45,529.5 v-5 M331.59,529.5 v-9 M347.73,529.5 v-5 M363.87,529.5 v-5 M380.01,529.5 v-5 M396.15,529.5 v-5 M412.29,529.5 v-9 M428.43,529.5 v-5 M444.57,529.5 v-5 M460.71,529.5 v-5 M476.85,529.5 v-5 M492.99,529.5 v-9 M509.13,529.5 v-5" stroke="#000" stroke-width="1.7" fill="none"/>
<text x="79.6" y="104.12" font-size="17.8" text-anchor="end">0</text>
<text x="79.6" y="65.81" font-size="17.8" text-anchor="end">20</text>
<text x="79.6" y="27.50" font-size="17.8" text-anchor="end">40</text>
<text x="79.6" y="211.57" font-size="17.8" text-anchor="end">0</text>
<text x="79.6" y="181.46" font-size="17.8" text-anchor="end">2</text>
<text x="79.6" y="151.34" font-size="17.8" text-anchor="end">4</text>
<text x="79.6" y="121.23" font-size="17.8" text-anchor="end">6</text>
<text x="79.6" y="316.97" font-size="17.8" text-anchor="end">0</text>
<text x="79.6" y="286.86" font-size="17.8" text-anchor="end">1000</text>
<text x="79.6" y="256.74" font-size="17.8" text-anchor="end">2000</text>
<text x="79.6" y="226.63" font-size="17.8" text-anchor="end">3000</text>
<text x="79.6" y="416.64" font-size="17.8" text-anchor="end">0.0</text>
<text x="79.6" y="390.31" font-size="17.8" text-anchor="end">0.2</text>
<text x="79.6" y="363.99" font-size="17.8" text-anchor="end">0.4</text>
<text x="79.6" y="337.66" font-size="17.8" text-anchor="end">0.6</text>
<text x="79.6" y="522.03" font-size="17.8" text-anchor="end">0</text>
<text x="79.6" y="495.68" font-size="17.8" text-anchor="end">1</text>
<text x="79.6" y="469.32" font-size="17.8" text-anchor="end">2</text>
<text x="79.6" y="442.98" font-size="17.8" text-anchor="end">3</text>
<text x="89.50" y="553.5" font-size="17.8" text-anchor="middle">0</text>
<text x="170.20" y="553.5" font-size="17.8" text-anchor="middle">1</text>
<text x="250.90" y="553.5" font-size="17.8" text-anchor="middle">2</text>
<text x="331.59" y="553.5" font-size="17.8" text-anchor="middle">3</text>
<text x="412.29" y="553.5" font-size="17.8" text-anchor="middle">4</text>
<text x="492.99" y="553.5" font-size="17.8" text-anchor="middle">5</text>
<text x="91.5" y="588.1" font-size="23.7">Electron Fluence (</text>
<text x="286.5" y="588.1" font-size="23.7">10</text>
<text x="313.1" y="574.3" font-size="14">15</text>
<text x="335.3" y="588.1" font-size="23.7">x</text>
<text x="351.0" y="588.1" font-size="23.7">electrons.cm</text>
<text x="487.4" y="574.3" font-size="14">−2</text>
<text x="505.3" y="588.1" font-size="23.7">)</text>
<text transform="translate(24.4,404.8) rotate(-90)" font-size="24.7">Intensity (x10<tspan font-size="14" dy="-11.4">3</tspan><tspan dy="11.4"> counts)</tspan></text>
<text x="452.00" y="43.40" font-size="28.4">CH</text>
<text x="492.60" y="31.30" font-size="16">−</text>
<text x="442.50" y="146.20" font-size="28.4">CH</text>
<text x="482.70" y="156.60" font-size="16">2</text>
<text x="491.80" y="134.50" font-size="16">−</text>
<text x="456.40" y="241.70" font-size="15.5">18</text>
<text x="474.70" y="255.40" font-size="28.4">O</text>
<text x="495.80" y="243.90" font-size="16">−</text>
<text x="481.10" y="346.50" font-size="28.4">C</text>
<text x="501.40" y="355.80" font-size="16">2</text>
<text x="501.10" y="334.30" font-size="16">−</text>
<text x="451.30" y="461.10" font-size="28.4">C</text>
<text x="471.90" y="471.00" font-size="16">2</text>
<text x="480.90" y="461.10" font-size="28.4">H</text>
<text x="502.10" y="448.40" font-size="16">−</text>
</svg></body></html>
